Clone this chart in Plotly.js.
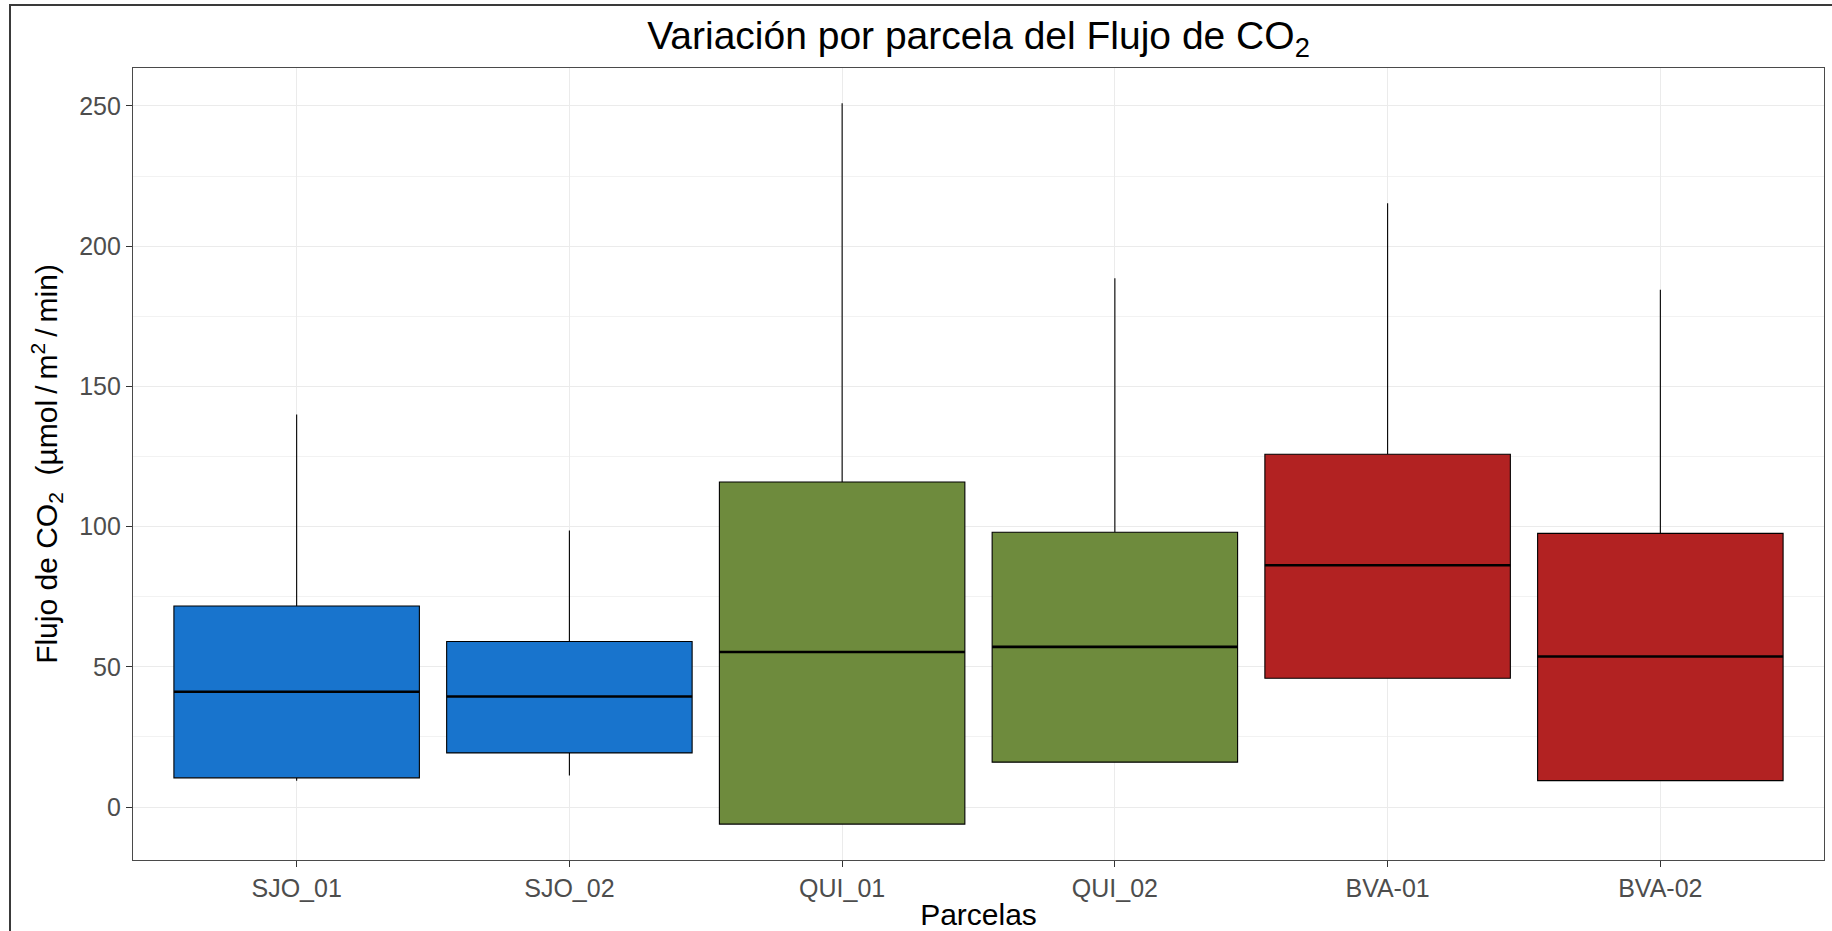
<!DOCTYPE html>
<html>
<head>
<meta charset="utf-8">
<script src="https://cdn.plot.ly/plotly-3.0.1.min.js"></script>
<style>
  html, body { margin: 0; padding: 0; background: #ffffff; overflow: hidden; }
  #chart { width: 1832px; height: 931px; }
  #frame { position: absolute; left: 9px; top: 4px; width: 2000px; height: 2000px;
           border-left: 2px solid #3a3a3a; border-top: 2px solid #3a3a3a;
           pointer-events: none; z-index: 10; }
</style>
</head>
<body>
<div id="frame"></div>
<div id="chart"></div>
<script>
// ---- data ----
const categories = ['SJO_01', 'SJO_02', 'QUI_01', 'QUI_02', 'BVA-01', 'BVA-02'];
const groupOf    = ['SJO', 'SJO', 'QUI', 'QUI', 'BVA', 'BVA'];
const q1         = [10.4, 19.3, -6.1, 16.0, 45.9, 9.4];
const medianVals = [41.1, 39.4, 55.3, 57.1, 86.2, 53.7];
const q3         = [71.7, 59.0, 115.9, 98.0, 125.8, 97.6];
const lowerFence = [9.4, 11.2, -6.1, 16.0, 45.9, 9.4];
const upperFence = [140.0, 98.6, 251.0, 188.6, 215.3, 184.5];
const groups     = ['SJO', 'QUI', 'BVA'];
const groupColors = { SJO: '#1874CD', QUI: '#6E8B3D', BVA: '#B22222' };
const yTickVals  = [0, 50, 100, 150, 200, 250];

const FONT = 'Liberation Sans, Arial, sans-serif';

function pick(arr, g) { return arr.filter((_, i) => groupOf[i] === g); }

const traces = groups.map(g => ({
  type: 'box',
  name: g,
  x: pick(categories, g),
  q1: pick(q1, g),
  median: pick(medianVals, g),
  q3: pick(q3, g),
  lowerfence: pick(lowerFence, g),
  upperfence: pick(upperFence, g),
  fillcolor: groupColors[g],
  line: { color: '#000000', width: 1.1 },
  whiskerwidth: 0,
  width: 0.9,
  boxpoints: false,
  hoverinfo: 'y',
  showlegend: false
}));

// thicker median bars (ggplot style), drawn from the median values
// (plotly's 'line-ew' symbol has a half-length of 1.4 * size/2)
const plotWidthPx = 1832 - 133 - 8;
const boxPx = 0.9 * plotWidthPx / 6.2;
traces.push({
  type: 'scatter',
  mode: 'markers',
  x: categories,
  y: medianVals,
  marker: { symbol: 'line-ew', size: boxPx / 1.4, line: { color: '#000000', width: 2.6 } },
  hoverinfo: 'skip',
  showlegend: false
});

const layout = {
  width: 1832,
  height: 931,
  margin: { l: 133, r: 8, t: 68, b: 71 },
  paper_bgcolor: '#ffffff',
  plot_bgcolor: '#ffffff',
  boxmode: 'overlay',
  showlegend: false,
  font: { family: FONT, color: '#000000' },
  title: {
    text: 'Variación por parcela del Flujo de CO<sub>2</sub>',
    font: { family: FONT, size: 39, color: '#000000' },
    xref: 'paper', x: 0.5, xanchor: 'center',
    yref: 'container', y: 1 - 35 / 931, yanchor: 'middle'
  },
  xaxis: {
    type: 'category',
    categoryorder: 'array',
    categoryarray: categories,
    range: [-0.6, 5.6],
    showgrid: true,
    gridcolor: '#EBEBEB',
    gridwidth: 1.1,
    showline: true,
    mirror: true,
    linecolor: '#4a4a4a',
    linewidth: 1.2,
    ticks: 'outside',
    ticklen: 6,
    tickwidth: 1.1,
    tickcolor: '#333333',
    tickfont: { family: FONT, size: 25, color: '#4D4D4D' },
    zeroline: false,
    automargin: false,
    title: {
      text: 'Parcelas',
      font: { family: FONT, size: 30, color: '#000000' },
      standoff: 2
    }
  },
  yaxis: {
    range: [-18.9, 263.55],
    tickvals: yTickVals,
    ticktext: yTickVals.map(String),
    showgrid: true,
    gridcolor: '#EBEBEB',
    gridwidth: 1.1,
    minor: { dtick: 25, tick0: 0, showgrid: true, gridcolor: '#F2F2F2', gridwidth: 0.7 },
    showline: true,
    mirror: true,
    linecolor: '#4a4a4a',
    linewidth: 1.2,
    ticks: 'outside',
    ticklen: 6,
    tickwidth: 1.1,
    tickcolor: '#333333',
    tickfont: { family: FONT, size: 25, color: '#4D4D4D' },
    zeroline: false,
    automargin: false,
    title: {
      text: 'Flujo de CO<sub>2</sub>\u00a0\u00a0(µmol\u2009/\u2009m<sup>2</sup>\u2009/\u2009min)',
      font: { family: FONT, size: 30, color: '#000000' },
      standoff: 12
    }
  }
};

Plotly.newPlot('chart', traces, layout, { displayModeBar: false, staticPlot: false });
</script>
</body>
</html>
